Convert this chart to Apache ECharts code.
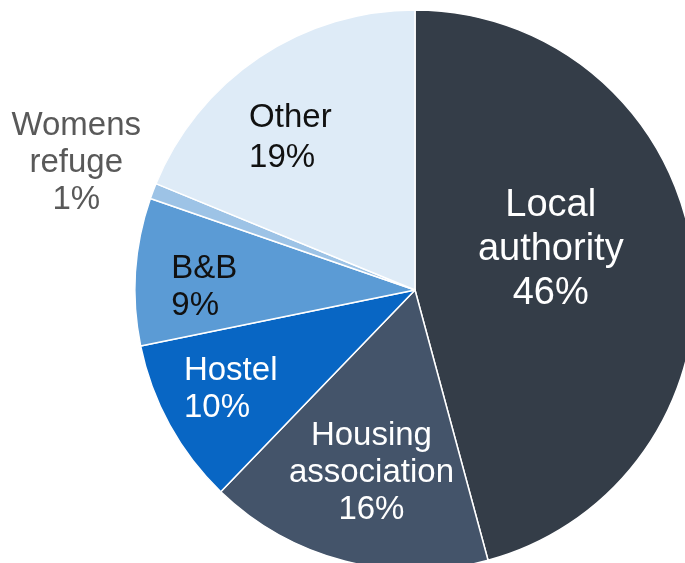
<!DOCTYPE html>
<html>
<head>
<meta charset="utf-8">
<script src="https://cdn.jsdelivr.net/npm/echarts@6/dist/echarts.min.js"></script>
<style>
  html, body { margin: 0; padding: 0; background: #ffffff; }
  #chart { width: 685px; height: 563px; }
</style>
</head>
<body>
<div id="chart"></div>
<script>
// ---- Data ----
const categories = ['Local authority', 'Housing association', 'Hostel', 'B&B', 'Womens refuge', 'Other'];
const values = [45.8, 16.4, 9.6, 8.5, 0.9, 18.8];

// ---- Styles ----
const sliceColors = ['#343d48', '#44546a', '#0866c4', '#5b9bd5', '#9dc3e6', '#deebf7'];
const labelColors = ['#ffffff', '#ffffff', '#ffffff', '#111111', '#595959', '#111111'];
const labelAlign = ['center', 'center', 'left', 'left', 'center', 'left'];
const labelFont = [38, 33, 33, 33, 33, 33];
const labelLineH = [44, 37, 37, 37, 37, 40];
// offsets of each label block centre from ECharts' default "inside" position
const labelShift = [[-6, -22], [-8, 44], [-59, 31], [-68, 7], [-205, -77], [-45, -33]];

const chart = echarts.init(document.getElementById('chart'), null, { renderer: 'canvas' });

const data = categories.map((name, i) => ({
  name: name,
  value: values[i],
  itemStyle: { color: sliceColors[i] },
  label: {
    color: labelColors[i],
    fontSize: labelFont[i],
    lineHeight: labelLineH[i],
    align: labelAlign[i]
  }
}));

chart.setOption({
  animation: false,
  backgroundColor: '#ffffff',
  series: [{
    type: 'pie',
    center: [415, 290],
    radius: 280,
    startAngle: 90,
    clockwise: true,
    avoidLabelOverlap: false,
    itemStyle: { borderColor: '#ffffff', borderWidth: 1.5 },
    label: {
      show: true,
      position: 'inside',
      fontFamily: '"Liberation Sans", Arial, sans-serif',
      formatter: p => p.name.replace(' ', '\n') + '\n' + Math.round(p.value) + '%'
    },
    labelLine: { show: false },
    labelLayout: function (params) {
      const i = params.dataIndex;
      const r = params.labelRect;
      const cx = r.x + r.width / 2 + labelShift[i][0];
      const cy = r.y + r.height / 2 + labelShift[i][1];
      if (labelAlign[i] === 'left') {
        return { x: cx - r.width / 2, y: cy, align: 'left', verticalAlign: 'middle' };
      }
      return { x: cx, y: cy, align: 'center', verticalAlign: 'middle' };
    },
    emphasis: { disabled: true },
    data: data
  }]
});
</script>
</body>
</html>
